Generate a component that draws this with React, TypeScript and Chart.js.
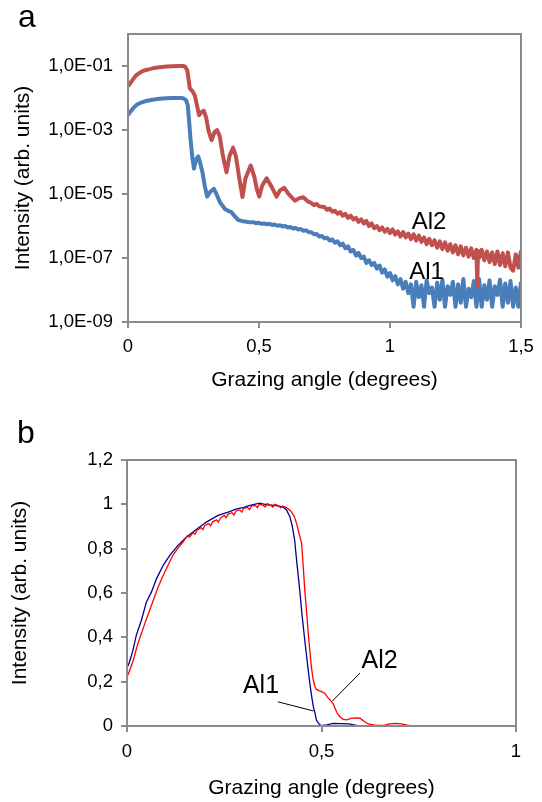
import React, { useEffect, useRef } from "react";
import { Chart, registerables } from "chart.js";

Chart.register(...registerables);

const FONT = "'Liberation Sans', Arial, Helvetica, sans-serif";

// ---------- Panel a (log scale) ----------
const al2AX = [
  0, 0.01, 0.02, 0.032, 0.05, 0.065, 0.083, 0.1, 0.12, 0.147, 0.17, 0.19, 0.21, 0.218, 0.226, 0.232,
  0.236, 0.248, 0.255, 0.263, 0.271, 0.28, 0.289, 0.298, 0.308, 0.319, 0.33, 0.34, 0.35, 0.362, 0.376,
  0.388, 0.401, 0.412, 0.425, 0.437, 0.448, 0.468, 0.482, 0.492, 0.501, 0.512, 0.529, 0.548, 0.567,
  0.58, 0.596, 0.615, 0.637, 0.652, 0.669, 0.685,
  0.7, 0.71, 0.72, 0.73, 0.74, 0.75, 0.76, 0.77, 0.78, 0.79, 0.8, 0.81, 0.82, 0.83, 0.84, 0.85, 0.86,
  0.87, 0.88, 0.89, 0.9, 0.91, 0.92, 0.93, 0.94, 0.95, 0.96, 0.97, 0.98, 0.99, 1.0, 1.01, 1.02, 1.03,
  1.04, 1.05, 1.06, 1.07, 1.08, 1.09, 1.1, 1.11, 1.12, 1.13, 1.14, 1.15, 1.16, 1.17, 1.18, 1.19, 1.2,
  1.21, 1.22, 1.23, 1.24, 1.25, 1.26, 1.27, 1.28, 1.29, 1.3, 1.31, 1.32, 1.33, 1.333, 1.336, 1.34,
  1.35, 1.36, 1.37, 1.38, 1.39, 1.4, 1.41, 1.42, 1.43, 1.44, 1.45, 1.46, 1.47, 1.48, 1.49, 1.5,
];
const al2AY = [
  2.3e-2, 3.0e-2, 3.9e-2, 5.2e-2, 6.6e-2, 7.4e-2, 8.0e-2, 8.7e-2, 9.2e-2, 9.6e-2, 9.9e-2, 1.0e-1,
  1.0e-1, 9.5e-2, 7.4e-2, 3.5e-2, 2.0e-2, 1.55e-2, 1.2e-2, 6.0e-3, 2.9e-3, 3.6e-3, 4.0e-3, 2.5e-3,
  9.0e-4, 4.8e-4, 8.5e-4, 1.0e-3, 6.5e-4, 1.6e-4, 4.8e-5, 1.6e-4, 2.8e-4, 1.5e-4, 3.0e-5, 8.0e-6,
  3.0e-5, 7.8e-5, 3.5e-5, 1.4e-5, 8.3e-6, 1.8e-5, 3.1e-5, 1.7e-5, 8.3e-6, 1.3e-5, 1.55e-5, 9.5e-6,
  6.2e-6, 7.3e-6, 7.9e-6, 6.0e-6,
  5.2e-6, 4.5e-6, 4.9e-6, 4.1e-6, 4.0e-6, 3.9e-6, 3.2e-6, 3.5e-6, 2.8e-6, 3.0e-6, 2.4e-6, 2.7e-6,
  2.1e-6, 2.4e-6, 1.8e-6, 2.1e-6, 1.6e-6, 1.8e-6, 1.35e-6, 1.6e-6, 1.2e-6, 1.45e-6, 1.0e-6, 1.2e-6,
  8.5e-7, 1.0e-6, 7.4e-7, 9.0e-7, 6.6e-7, 8.2e-7, 6.0e-7, 7.8e-7, 5.4e-7, 6.8e-7, 4.7e-7, 6.5e-7,
  4.4e-7, 5.8e-7, 3.9e-7, 5.5e-7, 3.5e-7, 5.0e-7, 3.2e-7, 4.4e-7, 2.7e-7, 4.0e-7, 2.5e-7, 3.6e-7,
  2.1e-7, 3.3e-7, 1.9e-7, 3.1e-7, 1.7e-7, 2.7e-7, 1.5e-7, 2.5e-7, 1.3e-7, 2.3e-7, 1.2e-7, 2.1e-7,
  1.1e-7, 2.0e-7, 1.0e-7, 1.8e-7, 1.3e-8, 1.7e-7, 1.0e-7, 1.8e-7, 8.5e-8, 1.6e-7, 7.5e-8, 1.5e-7,
  6.5e-8, 1.6e-7, 6.0e-8, 1.4e-7, 5.5e-8, 1.5e-7, 5.0e-8, 4.0e-8, 1.3e-7, 5.0e-8, 1.7e-7,
];

const al1AX = [
  0, 0.01, 0.02, 0.032, 0.05, 0.065, 0.083, 0.1, 0.12, 0.147, 0.17, 0.2, 0.212, 0.222, 0.228, 0.233,
  0.238, 0.245, 0.252, 0.26, 0.268, 0.276, 0.284, 0.293, 0.302, 0.315, 0.328, 0.34, 0.351, 0.37,
  0.385, 0.395, 0.408, 0.42, 0.44, 0.465,
  0.48, 0.49, 0.5, 0.51, 0.52, 0.53, 0.54, 0.55, 0.56, 0.57, 0.58, 0.59, 0.6, 0.61, 0.62, 0.63, 0.64,
  0.65, 0.66, 0.67, 0.68, 0.69, 0.7, 0.71, 0.72, 0.73, 0.74, 0.75, 0.76, 0.77, 0.78, 0.79, 0.8, 0.81,
  0.82, 0.83, 0.84, 0.85, 0.86, 0.87, 0.88, 0.89, 0.9, 0.91, 0.92, 0.93, 0.94, 0.95, 0.96, 0.97, 0.98,
  0.99, 1.0, 1.01, 1.02, 1.03, 1.04, 1.05, 1.06, 1.07, 1.08, 1.09, 1.1, 1.11, 1.12, 1.13, 1.14, 1.15,
  1.16, 1.17, 1.18, 1.19, 1.2, 1.21, 1.22, 1.23, 1.24, 1.25, 1.26, 1.27, 1.28, 1.29, 1.3, 1.31, 1.32,
  1.33, 1.34, 1.35, 1.36, 1.37, 1.38, 1.39, 1.4, 1.41, 1.42, 1.43, 1.44, 1.45, 1.46, 1.47, 1.48, 1.49,
  1.5,
];
const al1AY = [
  2.9e-3, 3.8e-3, 4.8e-3, 6.0e-3, 7.2e-3, 7.9e-3, 8.5e-3, 9.0e-3, 9.4e-3, 9.8e-3, 1.0e-2, 1.0e-2,
  9.8e-3, 8.5e-3, 6.0e-3, 2.0e-3, 6.0e-4, 1.5e-4, 6.2e-5, 1.2e-4, 1.5e-4, 9.0e-5, 4.8e-5, 1.8e-5,
  8.3e-6, 1.2e-5, 1.45e-5, 9.0e-6, 5.5e-6, 3.4e-6, 2.9e-6, 2.7e-6, 2.0e-6, 1.55e-6, 1.4e-6, 1.3e-6,
  1.3e-6, 1.22e-6, 1.26e-6, 1.17e-6, 1.2e-6, 1.13e-6, 1.17e-6, 1.08e-6, 1.12e-6, 1.02e-6, 1.06e-6,
  9.7e-7, 1.0e-6, 9.0e-7, 9.3e-7, 8.4e-7, 8.6e-7, 7.8e-7, 8.0e-7, 7.1e-7, 7.3e-7, 6.4e-7, 6.4e-7,
  5.5e-7, 5.6e-7, 4.7e-7, 4.9e-7, 4.1e-7, 4.3e-7, 3.5e-7, 3.8e-7, 3.0e-7, 3.3e-7, 2.5e-7, 2.8e-7,
  2.0e-7, 2.3e-7, 1.6e-7, 1.8e-7, 1.2e-7, 1.45e-7, 1.0e-7, 1.1e-7, 7.0e-8, 8.5e-8, 6.0e-8, 7.0e-8,
  4.6e-8, 5.8e-8, 3.5e-8, 4.4e-8, 2.6e-8, 3.4e-8, 2.0e-8, 2.7e-8, 1.5e-8, 2.2e-8, 1.1e-8, 1.8e-8,
  8.0e-9, 1.5e-8, 3.0e-9, 1.8e-8, 6.0e-9, 1.4e-8, 3.0e-9, 2.0e-8, 8.0e-9, 1.2e-8, 3.0e-9, 1.7e-8,
  5.0e-9, 2.1e-8, 3.0e-9, 1.3e-8, 7.0e-9, 1.8e-8, 3.0e-9, 1.5e-8, 4.0e-9, 2.2e-8, 3.0e-9, 1.1e-8,
  6.0e-9, 1.9e-8, 3.0e-9, 2.2e-8, 3.0e-9, 1.4e-8, 5.0e-9, 2.0e-8, 3.0e-9, 1.3e-8, 7.0e-9, 2.1e-8,
  3.0e-9, 1.6e-8, 4.0e-9, 1.9e-8, 3.0e-9, 1.2e-8, 3.0e-9, 1.8e-8,
];

const aYTickValues = [1e-9, 1e-7, 1e-5, 1e-3, 1e-1];
const aYTickLabels = ["1,0E-09", "1,0E-07", "1,0E-05", "1,0E-03", "1,0E-01"];
const aXTickValues = [0, 0.5, 1, 1.5];
const aXTickLabels = ["0", "0,5", "1", "1,5"];

// ---------- Panel b (linear scale) ----------
const al1BX = [
  0, 0.004, 0.01, 0.015, 0.024, 0.037, 0.05, 0.063, 0.076, 0.093, 0.11, 0.131, 0.153, 0.178, 0.204,
  0.234, 0.26, 0.28, 0.3, 0.316, 0.341, 0.36, 0.38, 0.401, 0.41, 0.419, 0.425, 0.431, 0.437, 0.444,
  0.45, 0.457, 0.464, 0.47, 0.475, 0.479, 0.483, 0.487, 0.491, 0.496, 0.5, 0.507, 0.514, 0.53, 0.55,
  0.57, 0.59, 0.62, 1.0,
];
const al1BY = [
  0.285, 0.275, 0.31, 0.34, 0.41, 0.477, 0.56, 0.605, 0.665, 0.725, 0.77, 0.815, 0.853, 0.886, 0.92,
  0.95, 0.965, 0.978, 0.986, 0.995, 1.005, 0.998, 0.995, 0.988, 0.975, 0.943, 0.9, 0.838, 0.73, 0.613,
  0.5, 0.387, 0.28, 0.192, 0.13, 0.087, 0.06, 0.027, 0.015, 0.005, 0.002, 0.004, 0.005, 0.012, 0.011,
  0.01, 0.003, 0.0, 0.0,
];
const al2BX = [
  0, 0.003, 0.015, 0.028, 0.046, 0.063, 0.08, 0.097, 0.118, 0.13, 0.144,
  0.15, 0.155, 0.16, 0.17, 0.175, 0.18, 0.19, 0.195, 0.2, 0.21, 0.215, 0.22, 0.23, 0.235, 0.24, 0.25,
  0.255, 0.26, 0.27, 0.275, 0.28, 0.29, 0.295, 0.3, 0.31, 0.315, 0.32, 0.33, 0.335, 0.34, 0.35, 0.355,
  0.36, 0.37, 0.375, 0.38, 0.39, 0.395, 0.4, 0.41, 0.42,
  0.423, 0.43, 0.436, 0.442, 0.449, 0.453, 0.457, 0.462, 0.466, 0.47, 0.474, 0.478, 0.483, 0.487,
  0.491, 0.496, 0.5, 0.509, 0.515, 0.52, 0.53, 0.539, 0.547, 0.556, 0.565, 0.575, 0.585, 0.599, 0.61,
  0.62, 0.64, 0.66, 0.675, 0.69, 0.705, 0.72, 0.735, 1.0,
];
const al2BY = [
  0.225, 0.233, 0.29, 0.372, 0.463, 0.545, 0.627, 0.695, 0.77, 0.8, 0.83,
  0.845, 0.858, 0.852, 0.872, 0.866, 0.883, 0.895, 0.886, 0.905, 0.913, 0.903, 0.921, 0.93, 0.92,
  0.938, 0.95, 0.94, 0.956, 0.962, 0.952, 0.97, 0.975, 0.965, 0.982, 0.986, 0.976, 0.992, 0.995,
  0.985, 1.0, 0.996, 0.988, 1.003, 0.996, 0.987, 1.0, 0.993, 0.984, 0.992, 0.985, 0.972,
  0.965, 0.945, 0.913, 0.87, 0.823, 0.72, 0.613, 0.51, 0.417, 0.34, 0.267, 0.215, 0.177, 0.165,
  0.162, 0.157, 0.155, 0.147, 0.13, 0.122, 0.1, 0.062, 0.042, 0.03, 0.028, 0.034, 0.037, 0.035, 0.02,
  0.009, 0.003, 0.003, 0.01, 0.012, 0.01, 0.004, 0.001, 0.0,
];

const bYTickValues = [0, 0.2, 0.4, 0.6, 0.8, 1, 1.2];
const bYTickLabels = ["0", "0,2", "0,4", "0,6", "0,8", "1", "1,2"];
const bXTickValues = [0, 0.5, 1];
const bXTickLabels = ["0", "0,5", "1"];

const AXIS = "#8a8a8a";

const pts = (xs: number[], ys: number[]) => xs.map((x, i) => ({ x, y: ys[i] }));

const boxPlugin = {
  id: "box",
  afterDatasetsDraw(chart: any) {
    const { ctx, chartArea } = chart;
    const { left, top, right, bottom } = chartArea;
    ctx.save();
    ctx.strokeStyle = AXIS;
    ctx.lineWidth = 2;
    ctx.strokeRect(left, top, right - left, bottom - top);
    ctx.restore();
  },
};

const notesPlugin = {
  id: "notes",
  afterDraw(chart: any, _args: any, opts: any) {
    const { ctx } = chart;
    const xs = chart.scales.x;
    const ys = chart.scales.y;
    ctx.save();
    (opts.lines || []).forEach((l: number[]) => {
      ctx.beginPath();
      ctx.moveTo(xs.getPixelForValue(l[0]), ys.getPixelForValue(l[1]));
      ctx.lineTo(xs.getPixelForValue(l[2]), ys.getPixelForValue(l[3]));
      ctx.strokeStyle = "#000";
      ctx.lineWidth = 1;
      ctx.stroke();
    });
    (opts.texts || []).forEach((t: any) => {
      ctx.font = `${t.size}px ${FONT}`;
      ctx.fillStyle = "#000";
      ctx.textAlign = "left";
      ctx.textBaseline = "middle";
      ctx.fillText(t.text, xs.getPixelForValue(t.x), ys.getPixelForValue(t.y));
    });
    if (opts.letter) {
      ctx.font = `${opts.letter.size}px ${FONT}`;
      ctx.fillStyle = "#000";
      ctx.textAlign = "left";
      ctx.textBaseline = "alphabetic";
      ctx.fillText(opts.letter.text, opts.letter.px, opts.letter.py);
    }
    ctx.restore();
  },
};

function axisCommon(values: number[], labels: string[], pad: number) {
  return {
    afterBuildTicks: (s: any) => {
      s.ticks = values.map((v) => ({ value: v }));
    },
    grid: {
      display: true,
      drawOnChartArea: false,
      drawTicks: true,
      tickLength: 6,
      color: AXIS,
      lineWidth: 2,
    },
    border: { display: true, color: AXIS, width: 2 },
    ticks: {
      color: "#000",
      font: { size: 18.5, family: FONT },
      padding: pad,
      maxRotation: 0,
      autoSkip: false,
      callback: (_v: any, i: number) => labels[i],
    },
  };
}

function makeA(canvas: HTMLCanvasElement) {
  return new Chart(canvas, {
    type: "line",
    data: {
      datasets: [
        { label: "Al2", data: pts(al2AX, al2AY), borderColor: "#C0504D", borderWidth: 4, pointRadius: 0, tension: 0, borderJoinStyle: "round" },
        { label: "Al1", data: pts(al1AX, al1AY), borderColor: "#4A7EBB", borderWidth: 4, pointRadius: 0, tension: 0, borderJoinStyle: "round" },
      ],
    },
    options: {
      animation: false,
      responsive: false,
      devicePixelRatio: 1,
      layout: { padding: { left: 0, top: 34, right: 21, bottom: 0 } },
      plugins: {
        legend: { display: false },
        tooltip: { enabled: false },
        notes: {
          texts: [
            { text: "Al2", x: 1.083, y: 1.3e-6, size: 24 },
            { text: "Al1", x: 1.073, y: 3.5e-8, size: 24 },
          ],
          letter: { text: "a", px: 18, py: 27, size: 32 },
        },
      } as any,
      scales: {
        x: {
          type: "linear",
          min: 0,
          max: 1.5,
          afterFit: (s: any) => {
            s.height = 78;
          },
          ...axisCommon(aXTickValues, aXTickLabels, 8),
          title: { display: true, text: "Grazing angle (degrees)", color: "#000", font: { size: 21, family: FONT }, padding: { top: 0, bottom: 7 } },
        } as any,
        y: {
          type: "logarithmic",
          min: 1e-9,
          max: 1,
          afterFit: (s: any) => {
            s.width = 128;
          },
          ...axisCommon(aYTickValues, aYTickLabels, 9),
          title: { display: true, text: "Intensity (arb. units)", color: "#000", font: { size: 21, family: FONT }, padding: { top: 11, bottom: 0 } },
        } as any,
      },
    },
    plugins: [boxPlugin, notesPlugin],
  } as any);
}

function makeB(canvas: HTMLCanvasElement) {
  return new Chart(canvas, {
    type: "line",
    data: {
      datasets: [
        { label: "Al2", data: pts(al2BX, al2BY), borderColor: "#FF0000", borderWidth: 1.3, pointRadius: 0, tension: 0 },
        { label: "Al1", data: pts(al1BX, al1BY), borderColor: "#000090", borderWidth: 1.3, pointRadius: 0, tension: 0 },
      ],
    },
    options: {
      animation: false,
      responsive: false,
      devicePixelRatio: 1,
      layout: { padding: { left: 0, top: 60, right: 26, bottom: 0 } },
      plugins: {
        legend: { display: false },
        tooltip: { enabled: false },
        notes: {
          texts: [
            { text: "Al1", x: 0.298, y: 0.18, size: 25 },
            { text: "Al2", x: 0.603, y: 0.293, size: 25 },
          ],
          lines: [
            [0.388, 0.109, 0.479, 0.068],
            [0.599, 0.239, 0.528, 0.113],
          ],
          letter: { text: "b", px: 17, py: 43, size: 32 },
        },
      } as any,
      scales: {
        x: {
          type: "linear",
          min: 0,
          max: 1,
          afterFit: (s: any) => {
            s.height = 76;
          },
          ...axisCommon(bXTickValues, bXTickLabels, 9),
          title: { display: true, text: "Grazing angle (degrees)", color: "#000", font: { size: 21, family: FONT }, padding: { top: 0, bottom: 1 } },
        } as any,
        y: {
          type: "linear",
          min: 0,
          max: 1.2,
          afterFit: (s: any) => {
            s.width = 127;
          },
          ...axisCommon(bYTickValues, bYTickLabels, 8),
          title: { display: true, text: "Intensity (arb. units)", color: "#000", font: { size: 21, family: FONT }, padding: { top: 8, bottom: 0 } },
        } as any,
      },
    },
    plugins: [boxPlugin, notesPlugin],
  } as any);
}

export default function App() {
  const refA = useRef<HTMLCanvasElement | null>(null);
  const refB = useRef<HTMLCanvasElement | null>(null);

  useEffect(() => {
    Chart.defaults.font.family = FONT;
    const a = refA.current ? makeA(refA.current) : null;
    const b = refB.current ? makeB(refB.current) : null;
    return () => {
      a?.destroy();
      b?.destroy();
    };
  }, []);

  return (
    <div style={{ position: "absolute", left: 0, top: 0, width: 542, height: 802, background: "#fff" }}>
      <canvas ref={refA} width={542} height={400} style={{ display: "block", width: 542, height: 400 }} />
      <canvas ref={refB} width={542} height={402} style={{ display: "block", width: 542, height: 402 }} />
    </div>
  );
}
